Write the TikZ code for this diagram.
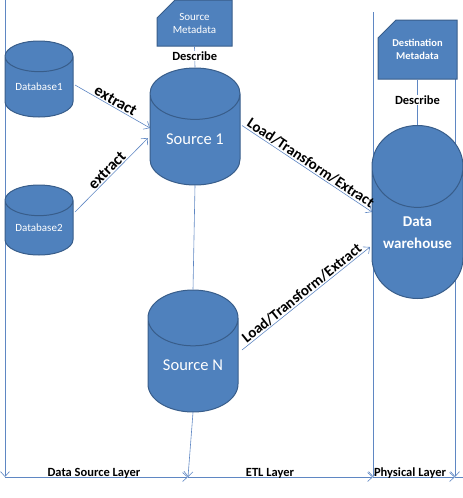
\documentclass[tikz,border=0pt]{standalone}
\usepackage{fontspec}
\setmainfont{Carlito}
\usetikzlibrary{positioning, arrows.meta, shapes.geometric, shapes.misc, calc}
\definecolor{dbfill}{RGB}{79,129,189}
\definecolor{dbedge}{RGB}{56,93,138}
\definecolor{layerln}{RGB}{95,135,195}
\tikzset{
  store/.style={
    cylinder, shape border rotate=90, anchor=shape center,
    draw=dbedge, line width=1pt, fill=dbfill,
    text=white, inner sep=0pt,
  },
  meta/.style={
    chamfered rectangle, chamfered rectangle corners=north west,
    chamfered rectangle xsep=9pt, chamfered rectangle ysep=9pt,
    draw=dbedge, line width=1pt, fill=dbfill, text=white,
    align=center, inner sep=0pt, font=\fontsize{11}{13}\selectfont,
  },
  link/.style={draw=layerln, line width=0.6pt},
  flow/.style={link, -{Straight Barb[length=5pt, width=9pt]}},
  tag/.style={font=\bfseries\fontsize{12.5}{15}\selectfont, inner sep=1pt},
  etl/.style={tag, sloped, above, font=\bfseries\fontsize{15}{17}\selectfont},
  pull/.style={tag, sloped, above, inner sep=1pt, font=\bfseries\fontsize{16}{18}\selectfont},
}
\begin{document}
\begin{tikzpicture}[x=1pt, y=-1pt]
\useasboundingbox (0,0) rectangle (463,498);

% layer borders
\coordinate (topA) at (5,0);
\coordinate (botA) at (5,477);
\coordinate (botB) at (188,477);
\coordinate (topC) at (373,12);
\coordinate (botC) at (373,477);
\coordinate (topD) at (455,68);
\coordinate (botD) at (455,477);
\coordinate (endR) at (463,477);

\draw[flow] (topA) -- (botA);
\draw[flow] (topC) -- (botC);
\draw[flow] (topD) -- (botD);
\draw[flow] (botA) -- (botB);
\draw[flow] (botB) -- (botC);
\draw[flow] (botC) -- (botD);
\draw[link] (botD) -- (endR);

% metadata
\node[meta, minimum width=75pt, minimum height=46pt] (srcmeta) at (194.5,23) {Source\\Metadata};
\node[meta, font=\bfseries\fontsize{10.5}{13}\selectfont, minimum width=79pt, minimum height=59pt] (dstmeta) at (417.5,49.5) {Destination\\Metadata};

% stores
\node[store, aspect=0.65, minimum width=68pt, minimum height=76pt, font=\fontsize{11}{13}\selectfont] (db1) at (39,79) {Database1};
\node[store, aspect=0.65, minimum width=68pt, minimum height=70pt, font=\fontsize{11}{13}\selectfont] (db2) at (39,220) {Database2};
\node[store, aspect=0.89, minimum width=90pt, minimum height=117pt, font=\fontsize{16.5}{19}\selectfont] (src1) at (195,126.5) {Source 1};
\node[store, aspect=0.93, minimum width=90pt, minimum height=122pt, font=\fontsize{16.5}{19}\selectfont] (srcN) at (193,351) {Source N};
\node[store, aspect=1.19, minimum width=91pt, minimum height=173pt, align=center, font=\bfseries\fontsize{15}{22.5}\selectfont] (dw) at (417.5,212) {Data\\warehouse};

% describe links
\draw[link] (srcmeta.south) -- node[tag, fill=white, pos=0.45] {Describe} (src1.top);
\draw[link] (dstmeta.south) -- node[tag, fill=white, pos=0.45] {Describe} (dw.top);
\draw[link] (src1.bottom) -- (srcN.top);
\draw[flow] (srcN.bottom) -- (botB);

% data flow
\draw[flow] ($(db1.shape center)+(36,6)$) -- node[pull] {extract} ($(src1.shape center)+(-45,1.5)$);
\draw[flow] ($(db2.shape center)+(36,-8)$) -- node[pull] {extract} ($(src1.shape center)+(-47,11.5)$);
\draw[flow] ($(src1.shape center)+(47,-1)$) -- node[etl] {Load/Transform/Extract} ($(dw.shape center)+(-45.5,0)$);
\draw[flow] ($(srcN.shape center)+(49,-1)$) -- node[etl] {Load/Transform/Extract} ($(dw.shape center)+(-47.5,35)$);

% layer names
\node[tag, anchor=base] (lsrc) at (94,476) {Data Source Layer};
\node[tag, anchor=base] (letl) at (270,476) {ETL Layer};
\node[tag, anchor=base] (lphy) at (410,476) {Physical Layer};
\end{tikzpicture}
\end{document}
